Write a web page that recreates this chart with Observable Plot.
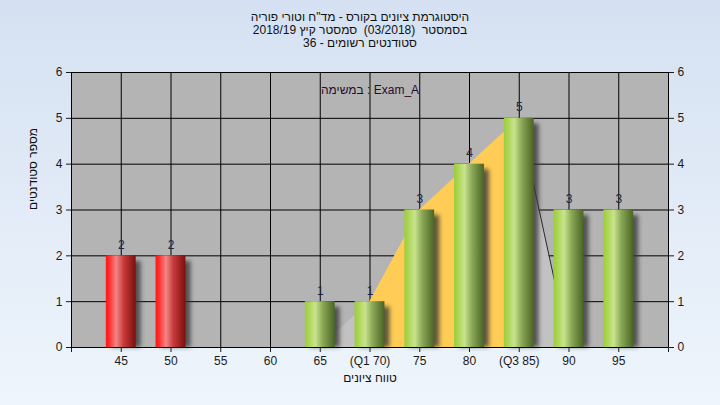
<!DOCTYPE html>
<html><head><meta charset="utf-8">
<script src="https://cdn.jsdelivr.net/npm/d3@7"></script>
<script src="https://cdn.jsdelivr.net/npm/@observablehq/plot@0.6"></script>
<style>
html,body{margin:0;padding:0;}
#wrap{position:relative;width:720px;height:405px;background:linear-gradient(#d5e1f2,#eef5fc);font-family:"Liberation Sans","DejaVu Sans",sans-serif;overflow:hidden}
#title{position:absolute;left:0;top:11px;width:720px;text-align:center;font-size:12px;line-height:13px;color:#111;direction:rtl}
#chart{position:absolute;left:0;top:0}
</style></head><body>
<div id="wrap">
<div id="chart"></div>
<div id="title">
<div>היסטוגרמת ציונים בקורס - מד"ח וטורי פוריה</div>
<div>בסמסטר&nbsp; (03/2018)&nbsp; סמסטר קיץ 2018/19</div>
<div>סטודנטים רשומים - 36</div>
</div>
</div>
<script>
// ---- data ----
const grades = [45, 50, 55, 60, 65, 70, 75, 80, 85, 90, 95];
const tickLabels = ["45", "50", "55", "60", "65", "(Q1 70)", "75", "80", "(Q3 85)", "90", "95"];
const counts = [2, 2, 0, 0, 1, 1, 3, 4, 5, 3, 3];
const failBelow = 55;
const curveGrades = [65, 70, 75, 80, 85, 90, 95];
const curveValues = [0, 1, 3, 4, 5, 0, 0];
const q1 = 70, q3 = 85;
const xGrid = [40, 45, 50, 55, 60, 65, 70, 75, 80, 85, 90, 95, 100];
const yTicks = [0, 1, 2, 3, 4, 5, 6];
const taskLabel = "במשימה : Exam_A";
const xTitle = "טווח ציונים";
const yTitle = "מספר סטודנטים";

const bars = grades.map((g, i) => ({g, c: counts[i], fail: g < failBelow}));
const shown = bars.filter(d => d.c > 0);
const curve = curveGrades.map((g, i) => ({g, v: curveValues[i]}));
const labelMap = new Map(grades.map((g, i) => [g, tickLabels[i]]));
const half = 1.5;

const svg = Plot.plot({
  width: 720, height: 405,
  marginLeft: 71, marginRight: 52, marginTop: 72, marginBottom: 58,
  style: {background: "transparent", fontFamily: "'Liberation Sans','DejaVu Sans',sans-serif", fontSize: "12px", color: "#1a1a1a"},
  x: {domain: [40, 100], ticks: xGrid, tickFormat: d => labelMap.get(d) ?? "", tickSize: 5, label: null},
  y: {domain: [0, 6], ticks: yTicks, tickFormat: d => String(d), axis: "both", tickSize: 5, label: null},
  marks: [
    Plot.frame({fill: "#b4b4b4"}),
    Plot.ruleY(yTicks, {stroke: "#000"}),
    Plot.ruleX(xGrid, {stroke: "#000"}),
    Plot.areaY(curve, {x: "g", y: "v", fill: "#c2c2c2"}),
    Plot.areaY(curve.filter(d => d.g >= q1 && d.g <= q3), {x: "g", y: "v", fill: "#ffcc55"}),
    Plot.line(curve.filter(d => d.g >= q3), {x: "g", y: "v", stroke: "#2a2a2a", strokeWidth: 1}),
    Plot.rectY(shown, {x1: d => d.g - half, x2: d => d.g + half, y1: 0, y2: d => d.c - 0.12, dx: 5, fill: "#3a3a3a", fillOpacity: 0.8}),
    Plot.rectY(shown.filter(d => d.fail), {x1: d => d.g - half, x2: d => d.g + half, y1: 0, y2: "c", fill: "url(#redGrad)"}),
    Plot.rectY(shown.filter(d => !d.fail), {x1: d => d.g - half, x2: d => d.g + half, y1: 0, y2: "c", fill: "url(#greenGrad)"}),
    Plot.ruleY([0], {stroke: "#000"}),
    Plot.text(shown, {x: "g", y: "c", text: d => String(d.c), dy: -11, fontSize: 12, fill: "#1a2640"}),
    Plot.text([taskLabel], {frameAnchor: "top", dy: 13, fontSize: 12, fill: "#2a0a2a"}),
    Plot.text([xTitle], {frameAnchor: "bottom", dy: 34, fontSize: 12, fill: "#111"}),
    Plot.text([yTitle], {frameAnchor: "left", dx: -38, rotate: -90, fontSize: 12, fill: "#111"})
  ]
});

const defs = d3.select(svg).insert("defs", ":first-child");
function grad(id, stops) {
  const g = defs.append("linearGradient").attr("id", id).attr("x1", "0").attr("x2", "1").attr("y1", "0").attr("y2", "0");
  stops.forEach(([o, c]) => g.append("stop").attr("offset", o).attr("stop-color", c));
}
grad("redGrad", [["0%", "#ff1414"], ["12%", "#ff3030"], ["35%", "#f28686"], ["60%", "#c83a3a"], ["100%", "#7a0e0e"]]);
grad("greenGrad", [["0%", "#9ccd3c"], ["12%", "#a9d550"], ["35%", "#c9e38e"], ["60%", "#8aa856"], ["100%", "#4a6424"]]);
const f = defs.append("filter").attr("id", "blur").attr("x", "-50%").attr("y", "-10%").attr("width", "200%").attr("height", "120%");
f.append("feGaussianBlur").attr("stdDeviation", 2);
d3.select(svg).selectAll('g[fill="#3a3a3a"]').attr("filter", "url(#blur)");

document.getElementById("chart").appendChild(svg);
</script>
</body></html>
